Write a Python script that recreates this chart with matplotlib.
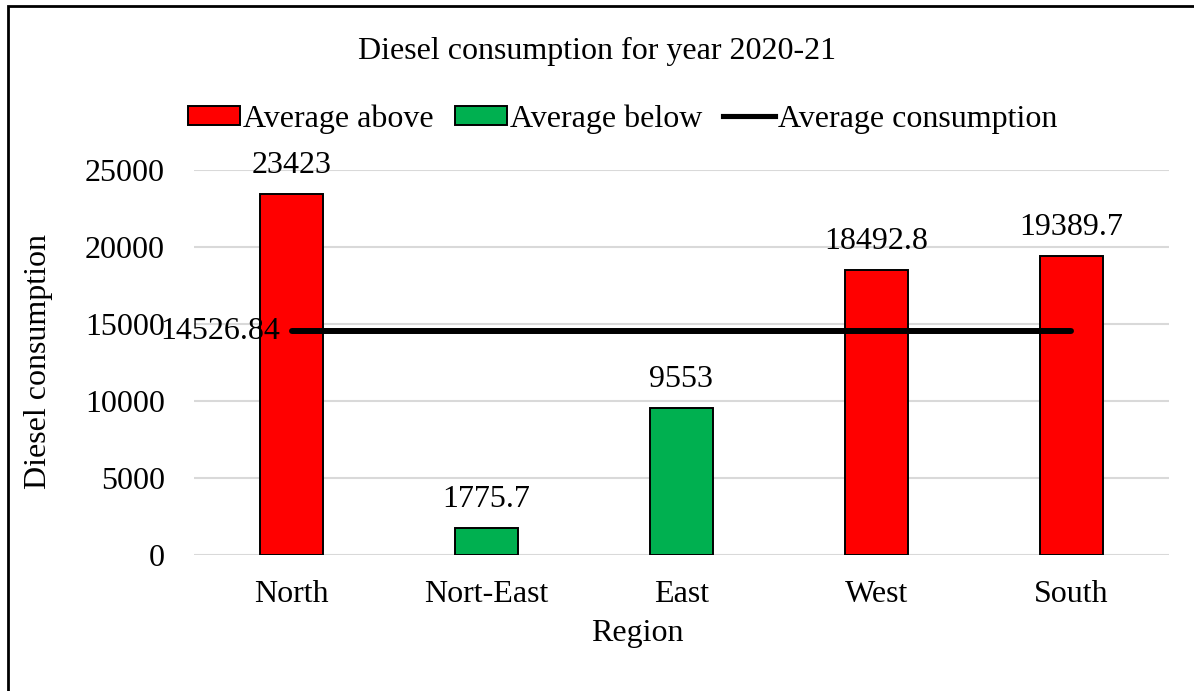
import matplotlib.pyplot as plt
from matplotlib.patches import Patch, Rectangle
from matplotlib.lines import Line2D

plt.rcParams['font.family'] = ['Liberation Serif', 'DejaVu Serif']

regions = ['North', 'Nort-East', 'East', 'West', 'South']
consumption = [23423, 1775.7, 9553, 18492.8, 19389.7]
value_labels = ['23423', '1775.7', '9553', '18492.8', '19389.7']
average = 14526.84
y_ticks = [0, 5000, 10000, 15000, 20000, 25000]

RED = '#FF0000'
GREEN = '#00B050'
FS = 23

fig = plt.figure(figsize=(11.94, 6.91), dpi=100)
ax = fig.add_axes([0.1625, 0.197, 0.8165, 0.557])

x = list(range(len(regions)))
colors = [RED if v > average else GREEN for v in consumption]
ax.bar(x, consumption, width=0.32, color=colors, edgecolor='black',
       linewidth=1.4, zorder=3)

for xi, v, lab in zip(x, consumption, value_labels):
    ax.annotate(lab, (xi, v), xytext=(0, 10), textcoords='offset points',
                ha='center', va='bottom', fontsize=FS)

# average line from first to last region
ax.plot([x[0], x[-1]], [average, average], color='black', lw=4.3,
        solid_capstyle='round', zorder=4)
ax.annotate(f'{average:.2f}', (x[0], average), xytext=(-8, 0),
            textcoords='offset points', ha='right', va='center', fontsize=FS)

ax.set_xlim(-0.5, len(regions) - 0.5)
ax.set_ylim(0, 25000)
ax.set_yticks(y_ticks)
ax.set_yticklabels([str(t) for t in y_ticks])
ax.set_xticks(x)
ax.set_xticklabels(regions)
ax.tick_params(axis='both', length=0, labelsize=FS)
ax.tick_params(axis='y', pad=21)
ax.tick_params(axis='x', pad=18)
ax.yaxis.grid(True, color='#d9d9d9', linewidth=1.5, zorder=0)
ax.set_axisbelow(True)
for s in ax.spines.values():
    s.set_visible(False)

fig.text(0.5, 1 - 51 / 691, 'Diesel consumption for year 2020-21',
         ha='center', va='center', fontsize=FS)
fig.text(637 / 1194, 1 - 633 / 691, 'Region', ha='center', va='center',
         fontsize=FS)
fig.text(39 / 1194, 1 - 362 / 691, 'Diesel consumption', ha='center',
         va='center', rotation=90, fontsize=FS)

handles = [
    Patch(facecolor=RED, edgecolor='black', linewidth=1.4),
    Patch(facecolor=GREEN, edgecolor='black', linewidth=1.4),
    Line2D([0], [0], color='black', lw=3.7),
]
fig.legend(handles, ['Average above', 'Average below', 'Average consumption'],
           loc='center', bbox_to_anchor=(623 / 1194, 1 - 119 / 691),
           ncol=3, frameon=False, fontsize=FS, handlelength=1.63,
           handleheight=0.53, handletextpad=0.1, columnspacing=0.65)

# outer frame, open on the right and bottom edges
fig.patches.append(Rectangle((8 / 1194, -0.1), 1.2, 1.1 - 6 / 691,
                             transform=fig.transFigure, fill=False,
                             edgecolor='black', linewidth=2))

fig.savefig('out.png', dpi=100)
